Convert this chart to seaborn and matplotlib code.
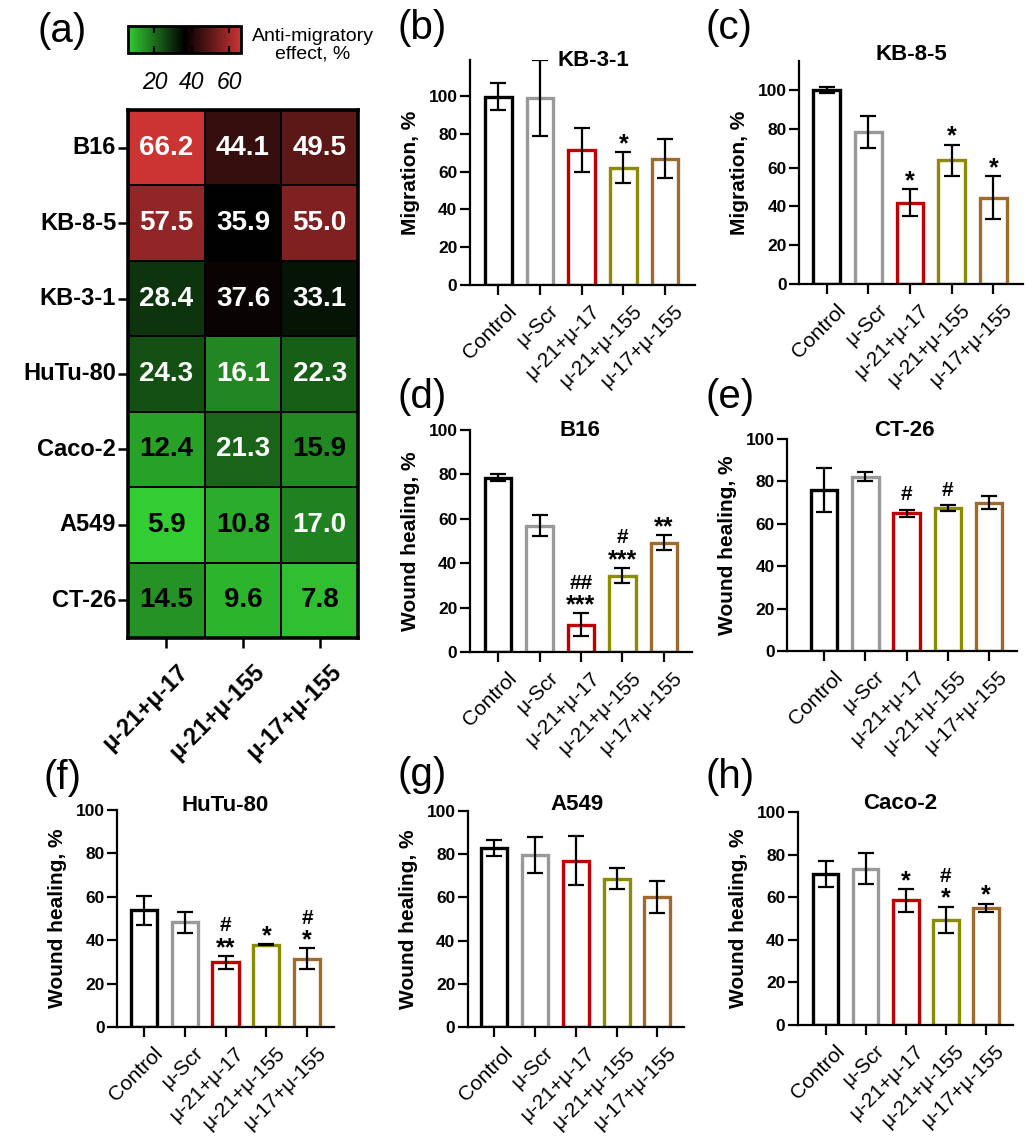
import numpy as np
import pandas as pd
import matplotlib
matplotlib.use("Agg")
import matplotlib.pyplot as plt
import matplotlib.transforms as mtransforms
from matplotlib.colors import LinearSegmentedColormap
import seaborn as sns

plt.rcParams['font.family'] = ['Liberation Sans', 'DejaVu Sans']

# ---------------- data ----------------
heat_rows = ["B16", "KB-8-5", "KB-3-1", "HuTu-80", "Caco-2", "A549", "CT-26"]
heat_cols = ["μ-21+μ-17", "μ-21+μ-155", "μ-17+μ-155"]
heat_mu21_mu17 = [66.2, 57.5, 28.4, 24.3, 12.4, 5.9, 14.5]
heat_mu21_mu155 = [44.1, 35.9, 37.6, 16.1, 21.3, 10.8, 9.6]
heat_mu17_mu155 = [49.5, 55.0, 33.1, 22.3, 15.9, 17.0, 7.8]
cbar_ticks = [20, 40, 60]

groups = ["Control", "μ-Scr", "μ-21+μ-17", "μ-21+μ-155", "μ-17+μ-155"]

kb31_mean = [99.6, 98.8, 71.3, 62.1, 66.7]
kb31_err = [7.0, 20.0, 11.7, 8.2, 10.3]
kb31_stars = ["", "", "", "*", ""]
kb31_hash = ["", "", "", "", ""]

kb85_mean = [100.0, 78.3, 42.0, 63.7, 44.6]
kb85_err = [1.4, 8.1, 6.8, 8.2, 11.0]
kb85_stars = ["", "", "*", "*", "*"]
kb85_hash = ["", "", "", "", ""]

b16_mean = [78.6, 56.8, 12.3, 34.4, 49.2]
b16_err = [1.7, 4.7, 5.1, 3.5, 3.4]
b16_stars = ["", "", "***", "***", "**"]
b16_hash = ["", "", "##", "#", ""]

ct26_mean = [76.0, 82.3, 65.0, 67.4, 70.0]
ct26_err = [10.4, 2.0, 1.6, 1.3, 3.2]
ct26_stars = ["", "", "", "", ""]
ct26_hash = ["", "", "#", "#", ""]

hutu_mean = [53.7, 48.2, 29.8, 38.0, 31.4]
hutu_err = [6.6, 5.0, 2.9, 0.4, 4.8]
hutu_stars = ["", "", "**", "*", "*"]
hutu_hash = ["", "", "#", "", "#"]

a549_mean = [83.0, 79.5, 77.0, 68.7, 60.2]
a549_err = [3.8, 8.3, 11.2, 5.0, 7.6]
a549_stars = ["", "", "", "", ""]
a549_hash = ["", "", "", "", ""]

caco_mean = [70.8, 73.4, 58.5, 49.4, 55.0]
caco_err = [6.2, 7.3, 5.5, 6.2, 2.0]
caco_stars = ["", "", "*", "*", "*"]
caco_hash = ["", "", "", "#", ""]

# ---------------- style / layout ----------------
bar_colors = ["#000000", "#999999", "#C00000", "#8C8C00", "#A06A2C"]
W, H = 1034, 1141
DPI = 100


def box(l, r, t, b):
    return [l / W, 1 - b / H, (r - l) / W, (b - t) / H]


fig = plt.figure(figsize=(W / DPI, H / DPI), dpi=DPI)


def shift_xlabels(ax, dx_px, dy_px):
    off = mtransforms.ScaledTranslation(dx_px / DPI, dy_px / DPI, fig.dpi_scale_trans)
    for lab in ax.get_xticklabels():
        lab.set_transform(lab.get_transform() + off)


# ---------------- heatmap (a) ----------------
df = pd.DataFrame({heat_cols[0]: heat_mu21_mu17,
                   heat_cols[1]: heat_mu21_mu155,
                   heat_cols[2]: heat_mu17_mu155}, index=heat_rows)
cmap = LinearSegmentedColormap.from_list("gkr", ["#33CC33", "#000000", "#CC3333"])
axh = fig.add_axes(box(128, 358, 110, 638))
cax = fig.add_axes(box(128, 241, 26, 53))
vals = df.values
sns.heatmap(df, ax=axh, cmap=cmap, vmin=vals.min(), vmax=vals.max(),
            annot=True, fmt=".1f",
            annot_kws=dict(fontsize=20, fontweight='bold'),
            linewidths=1.3, linecolor='black',
            cbar=True, cbar_ax=cax,
            cbar_kws=dict(orientation='horizontal', ticks=cbar_ticks))
for t in axh.texts:
    v = float(t.get_text())
    t.set_color('white' if v > 16 else 'black')
for sp in axh.spines.values():
    sp.set_visible(True)
    sp.set_linewidth(2.6)
    sp.set_color('black')
axh.set_xlabel("")
axh.set_ylabel("")
axh.tick_params(axis='both', length=7, width=1.8, color='black', pad=1.5)
axh.set_yticklabels(heat_rows, rotation=0, fontsize=17, fontweight='bold')
axh.set_xticklabels(heat_cols, rotation=45, ha='right', va='top',
                    rotation_mode='anchor', fontsize=17, fontweight='bold')
shift_xlabels(axh, 10, -10)

cb = axh.collections[0].colorbar
cb.outline.set_linewidth(2)
cb.outline.set_edgecolor('black')
cax.tick_params(direction='in', length=5, width=1.5, top=True, bottom=True,
                labelsize=16.5, pad=13, color='black')
for lab in cax.get_xticklabels():
    lab.set_fontstyle('italic')
fig.text(313 / W, 1 - 45 / H, "Anti-migratory\neffect, %", ha='center', va='center',
         fontsize=14, linespacing=1.05)


# ---------------- bar panels ----------------
def bar_panel(rect, title, tpos, ylabel, ymax, xlim, means, errs, stars, hashes):
    ax = fig.add_axes(box(*rect))
    sns.barplot(x=groups, y=means, hue=groups, palette=bar_colors, fill=False,
                linewidth=2.4, width=0.64, errorbar=None, legend=False, ax=ax)
    ax.errorbar(np.arange(len(groups)), means, yerr=errs, fmt='none',
                ecolor='black', elinewidth=1.6, capsize=5.5, capthick=1.6, zorder=5)
    ax.set_ylim(0, ymax)
    ax.set_xlim(*xlim)
    ax.set_yticks([0, 20, 40, 60, 80, 100])
    for sp in ['top', 'right']:
        ax.spines[sp].set_visible(False)
    for sp in ['left', 'bottom']:
        ax.spines[sp].set_linewidth(1.6)
    ax.tick_params(axis='both', direction='out', length=7, width=1.6)
    ax.tick_params(axis='y', labelsize=12.5, pad=2)
    for lab in ax.get_yticklabels():
        lab.set_fontweight('bold')
    ax.set_xticks(np.arange(len(groups)))
    ax.set_xticklabels(groups, rotation=45, ha='right', va='top',
                       rotation_mode='anchor', fontsize=15)
    shift_xlabels(ax, 9, -2)
    ax.set_ylabel(ylabel, fontsize=15, fontweight='bold', labelpad=6)
    ax.set_xlabel("")
    ax.text(tpos[0], tpos[1], title, transform=ax.transAxes, ha='center', va='center',
            fontsize=16, fontweight='bold')
    for i, (m, e, s, h) in enumerate(zip(means, errs, stars, hashes)):
        top = m + e
        if s:
            ax.annotate(s, xy=(i, top), xytext=(0, -3), textcoords='offset points',
                        ha='center', va='bottom', fontsize=18, fontweight='bold')
        if h:
            ax.annotate(h, xy=(i, top), xytext=(0, 15 if s else 4),
                        textcoords='offset points', ha='center', va='bottom',
                        fontsize=15, fontweight='bold')
    return ax


bar_panel((470, 695, 60, 285), "KB-3-1", (0.55, 1.0), "Migration, %", 119, (-0.68, 4.72),
          kb31_mean, kb31_err, kb31_stars, kb31_hash)
bar_panel((799, 1023, 61, 284), "KB-8-5", (0.5, 1.03), "Migration, %", 115, (-0.665, 4.71),
          kb85_mean, kb85_err, kb85_stars, kb85_hash)
bar_panel((470, 692, 430, 652), "B16", (0.495, 1.0), "Wound healing, %", 100, (-0.68, 4.68),
          b16_mean, b16_err, b16_stars, b16_hash)
bar_panel((787, 1017, 439, 651), "CT-26", (0.51, 1.04), "Wound healing, %", 100, (-0.9, 4.68),
          ct26_mean, ct26_err, ct26_stars, ct26_hash)
bar_panel((117, 334, 810, 1027), "HuTu-80", (0.5, 1.023), "Wound healing, %", 100, (-0.66, 4.66),
          hutu_mean, hutu_err, hutu_stars, hutu_hash)
bar_panel((468, 684, 811, 1027), "A549", (0.505, 1.03), "Wound healing, %", 100, (-0.645, 4.655),
          a549_mean, a549_err, a549_stars, a549_hash)
bar_panel((798, 1013, 812, 1025), "Caco-2", (0.474, 1.04), "Wound healing, %", 100, (-0.69, 4.68),
          caco_mean, caco_err, caco_stars, caco_hash)

# ---------------- panel letters ----------------
letters = [("(a)", 38, 31), ("(b)", 398, 28), ("(c)", 705, 28), ("(d)", 398, 397),
           ("(e)", 705, 397), ("(f)", 43, 778), ("(g)", 398, 775), ("(h)", 705, 777)]
for s, x, y in letters:
    fig.text(x / W, 1 - y / H, s, ha='left', va='center', fontsize=29)

fig.savefig("out.png", dpi=DPI)
